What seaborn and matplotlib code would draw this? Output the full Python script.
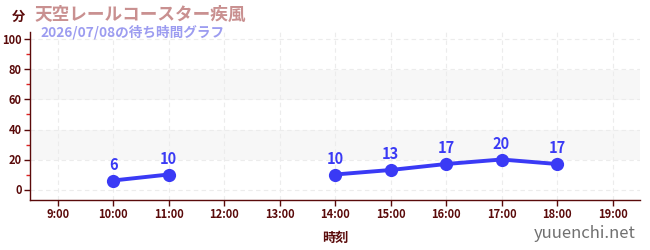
import matplotlib
matplotlib.use("Agg")
import matplotlib.pyplot as plt
import seaborn as sns
import pandas as pd
import numpy as np

hours = [10, 11, 14, 15, 16, 17, 18]
waits = [6, 10, 10, 13, 17, 20, 17]
segments = [0, 0, 1, 1, 1, 1, 1]
tick_hours = list(range(9, 20))
tick_labels = [f"{h}:00" for h in tick_hours]
title = "天空レールコースター疾風"
subtitle = "2026/07/08の待ち時間グラフ"

sns.set_theme(style="white")
plt.rcParams['font.family'] = ['Noto Sans CJK JP', 'DejaVu Sans']

df = pd.DataFrame({"hour": hours, "wait": waits, "seg": segments})

fig = plt.figure(figsize=(6.5, 2.5), dpi=100)
ax = fig.add_axes([0.046, 0.2, 0.939, 0.672])

dark = "#5a0a0a"
blue = "#3a3af5"

for lo, hi in [(20, 40), (60, 80)]:
    ax.axhspan(lo, hi, color="#f7f7f7", zorder=0, lw=0)

sns.lineplot(data=df, x="hour", y="wait", units="seg", estimator=None,
             color=blue, lw=2.8, marker="o", markersize=9.5,
             markeredgewidth=0, ax=ax, zorder=3)

for h, w in zip(hours, waits):
    ax.annotate(str(w), (h, w), xytext=(0, 5.5), textcoords="offset points",
                ha="center", va="bottom", color=blue, fontsize=10.5,
                fontweight="bold")

ax.set_xlim(8.5, 19.5)
ax.set_ylim(-7, 105)
ax.set_xticks(tick_hours)
ax.set_xticklabels(tick_labels)
ax.set_yticks([0, 20, 40, 60, 80, 100])
ax.set_yticks([10, 30, 50, 70, 90], minor=True)
ax.grid(True, which="major", color="#ececec", ls=(0, (4, 3)), lw=0.8)
ax.set_axisbelow(True)

for s in ["top", "right"]:
    ax.spines[s].set_visible(False)
for s in ["left", "bottom"]:
    ax.spines[s].set_color(dark)
    ax.spines[s].set_linewidth(1.0)

ax.tick_params(axis="both", which="major", length=4, width=1, color=dark,
               labelcolor=dark, labelsize=8, left=True, bottom=True, pad=2)
ax.tick_params(axis="y", which="minor", length=3, width=1, color="#dd2222",
               left=True)
for lab in ax.get_xticklabels() + ax.get_yticklabels():
    lab.set_fontweight("bold")

ax.set_xlabel("時刻", color=dark, fontsize=9.5, fontweight="bold", labelpad=7)
ax.set_ylabel("")

fig.text(12 / 650, 1 - 17 / 250, "分", color=dark, fontsize=9.5,
         fontweight="bold", va="center", ha="left")
fig.text(35 / 650, 1 - 15 / 250, title, color="#c99090", fontsize=12.7,
         fontweight="bold", va="center", ha="left")
fig.text(40 / 650, 1 - 32 / 250, subtitle, color="#9c9cf0", fontsize=9.8,
         fontweight="bold", va="center", ha="left")
fig.text(636 / 650, 1 - 233 / 250, "yuuenchi.net", color="#707070",
         fontsize=12, va="center", ha="right")

fig.savefig("out.png", dpi=100)
